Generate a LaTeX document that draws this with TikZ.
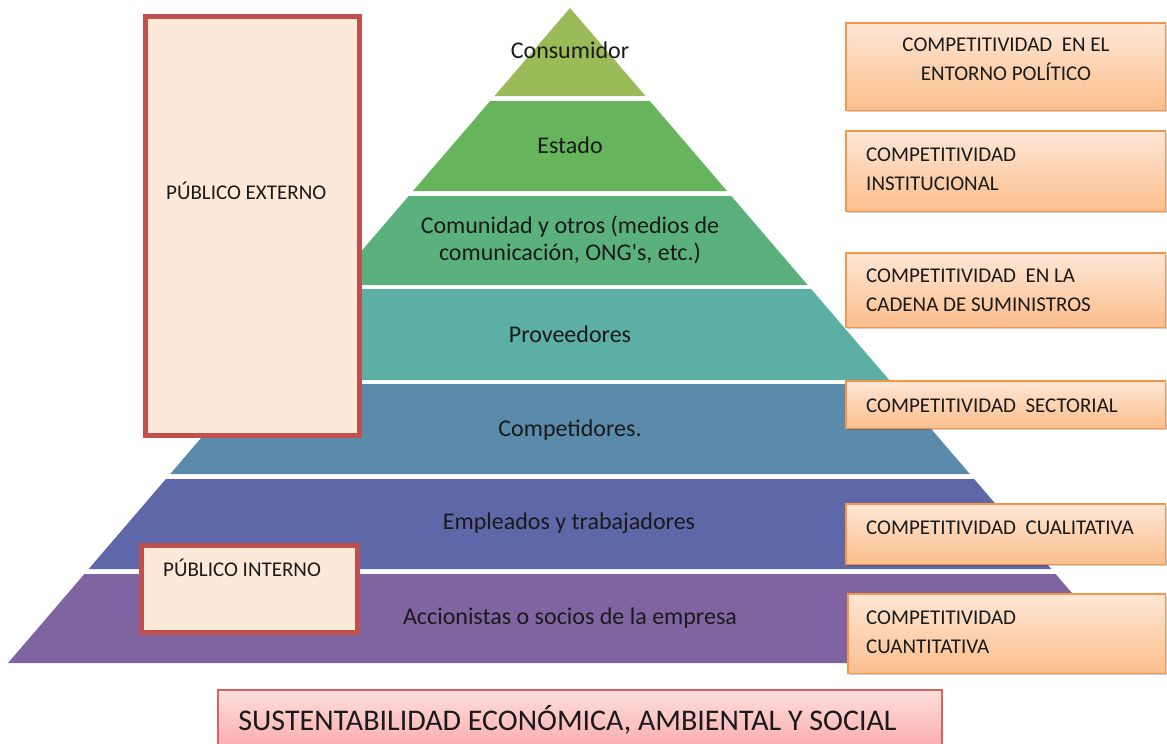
\documentclass[tikz,border=0pt]{standalone}
\usepackage{fontspec}
\setmainfont{Carlito}
\usetikzlibrary{shadows}
\definecolor{lay1}{HTML}{9BBB59}
\definecolor{lay2}{HTML}{66B45C}
\definecolor{lay3}{HTML}{5BB17B}
\definecolor{lay4}{HTML}{5BAFA5}
\definecolor{lay5}{HTML}{5A8BAB}
\definecolor{lay6}{HTML}{5E67A8}
\definecolor{lay7}{HTML}{8064A2}
\definecolor{peach}{HTML}{FDE9D9}
\definecolor{redline}{HTML}{C0504D}
\definecolor{orline}{HTML}{F79646}
\definecolor{ortop}{HTML}{FEE7D6}
\definecolor{orbot}{HTML}{FBBE8C}
\definecolor{pktop}{HTML}{FFDEDE}
\definecolor{pkbot}{HTML}{F9A2A2}
\definecolor{pkline}{HTML}{D9625C}
\definecolor{txt}{HTML}{1A1A1A}
\newcommand\pyrlayer[4]{%
  \fill[#3] ({570-0.858*(#1-8)},#1) -- ({570+0.858*(#1-8)},#1) -- ({570+0.858*(#2-8)},#2) -- ({570-0.858*(#2-8)},#2) -- cycle;}
\begin{document}
\begin{tikzpicture}[x=1pt,y=-1pt,
  laytext/.style={text=txt,font=\fontsize{24}{27}\selectfont,align=center,inner sep=0},
  pubbox/.style={draw=redline,line width=5pt,fill=peach,inner sep=0},
  pubtext/.style={text=txt,font=\fontsize{21}{25}\selectfont,anchor=west,inner sep=0},
  compbox/.style={draw=orline,line width=1.5pt,top color=ortop,bottom color=orbot,inner sep=0,
     drop shadow={shadow xshift=1.5pt,shadow yshift=-2pt,opacity=0.18,fill=black}},
  comptext/.style={text=txt,font=\fontsize{21}{29}\selectfont,inner sep=0},
  susbox/.style={draw=pkline,line width=1.2pt,top color=pktop,bottom color=pkbot,inner sep=0}]
\useasboundingbox (0,0) rectangle (1167,744);
% pyramid
\pyrlayer{8}{96}{lay1}{}
\pyrlayer{101}{191}{lay2}{}
\pyrlayer{196}{285}{lay3}{}
\pyrlayer{289}{380}{lay4}{}
\pyrlayer{384}{474}{lay5}{}
\pyrlayer{479}{569}{lay6}{}
\pyrlayer{574}{663}{lay7}{}
\node[laytext] (t1) at (570,50) {Consumidor};
\node[laytext] (t2) at (570,145) {Estado};
\node[laytext] (t3) at (570,240) {Comunidad y otros (medios de\\comunicación, ONG\textquotesingle s, etc.)};
\node[laytext] (t4) at (570,334) {Proveedores};
\node[laytext] (t5) at (570,430) {Competidores.};
\node[laytext] (t6) at (569,523) {Empleados y trabajadores};
\node[laytext] (t7) at (570,618) {Accionistas o socios de la empresa};
% left boxes
\node[pubbox,minimum width=214pt,minimum height=419pt] (ext) at (252.5,226) {};
\node[pubtext] (extt) at (166,191) {PÚBLICO EXTERNO};
\node[pubbox,minimum width=216pt,minimum height=87pt] (int) at (249.5,589) {};
\node[pubtext] (intt) at (163,568) {PÚBLICO INTERNO};
% right boxes
\node[compbox,minimum width=319.5pt,minimum height=87.5pt] (c1) at (1005.5,66.5) {};
\node[compbox,minimum width=319.5pt,minimum height=80.5pt] (c2) at (1005.5,171) {};
\node[compbox,minimum width=319.5pt,minimum height=74.5pt] (c3) at (1005.5,290) {};
\node[compbox,minimum width=319.5pt,minimum height=47.5pt] (c4) at (1005.5,404.5) {};
\node[compbox,minimum width=319.5pt,minimum height=60.5pt] (c5) at (1005.5,534) {};
\node[compbox,minimum width=317.5pt,minimum height=79.5pt] (c6) at (1006.5,633.5) {};
\node[comptext,align=center] (c1t) at (1006,59.5) {COMPETITIVIDAD\ \ EN EL\\ENTORNO POLÍTICO};
\node[comptext,align=left,anchor=west] (c2t) at (866,169.5) {COMPETITIVIDAD\\INSTITUCIONAL};
\node[comptext,align=left,anchor=west] (c3t) at (866,290.5) {COMPETITIVIDAD\ \ EN LA\\CADENA DE SUMINISTROS};
\node[comptext,align=left,anchor=west] (c4t) at (866,406) {COMPETITIVIDAD\ \ SECTORIAL};
\node[comptext,align=left,anchor=west] (c5t) at (866,528) {COMPETITIVIDAD\ \ CUALITATIVA};
\node[comptext,align=left,anchor=west] (c6t) at (866,632.5) {COMPETITIVIDAD\\CUANTITATIVA};
% bottom box
\node[susbox,minimum width=724pt,minimum height=70pt] (sus) at (580,725) {};
\node[text=txt,font=\fontsize{30}{34}\selectfont,inner sep=0] (sust) at (567.5,720) {SUSTENTABILIDAD ECONÓMICA, AMBIENTAL Y SOCIAL};
\end{tikzpicture}
\end{document}
